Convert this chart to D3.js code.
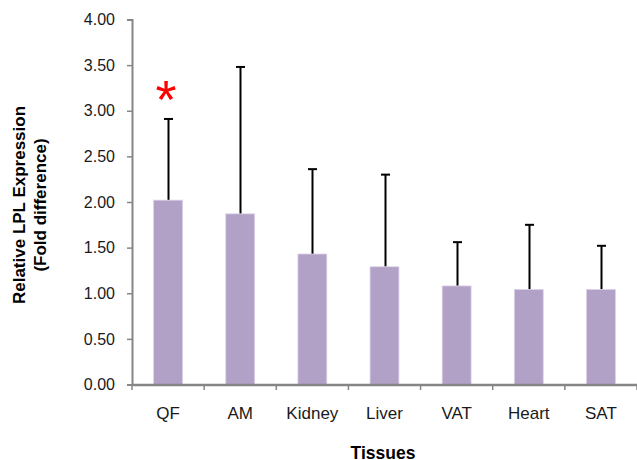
<!DOCTYPE html>
<html><head><meta charset="utf-8">
<script src="https://cdn.jsdelivr.net/npm/d3@7"></script>
<style>body{margin:0;background:#fff}svg{display:block}</style>
</head><body>
<svg id="c" width="637" height="460"></svg>
<script>
const categories = ["QF","AM","Kidney","Liver","VAT","Heart","SAT"];
const means = [2.02,1.87,1.43,1.29,1.08,1.04,1.04];
const errTops = [2.91,3.48,2.36,2.30,1.56,1.75,1.52];
const yTicks = [0,0.5,1,1.5,2,2.5,3,3.5,4];
const yTitle = ["Relative LPL Expression","(Fold difference)"];
const xTitle = "Tissues";
const sigMark = {category:"QF", value:2.92, text:"*"};

const svg = d3.select("#c");
const font = "Liberation Sans, Arial, sans-serif";
const x = d3.scaleBand().domain(categories).range([132,637]).paddingInner(0.6).paddingOuter(0.3);
const y = d3.scaleLinear().domain([0,4]).range([384.5,19.5]);
const data = categories.map((c,i)=>({c,m:means[i],e:errTops[i]}));

// error bars (drawn behind bars)
const eg = svg.append("g");
data.forEach(d=>{
  const cx = Math.round(x(d.c)+x.bandwidth()/2)+0.5;
  eg.append("line").attr("x1",cx).attr("x2",cx).attr("y1",y(d.m)).attr("y2",y(d.e)).attr("stroke","#000").attr("stroke-width",2);
  eg.append("line").attr("x1",cx-4.5).attr("x2",cx+4.5).attr("y1",y(d.e)).attr("y2",y(d.e)).attr("stroke","#000").attr("stroke-width",2);
});

svg.append("g").selectAll("rect").data(data).join("rect")
  .attr("x",d=>x(d.c)).attr("width",x.bandwidth())
  .attr("y",d=>y(d.m)).attr("height",d=>y(0)-y(d.m))
  .attr("fill","#b1a1c7").attr("stroke","#d9d0e6").attr("stroke-width",0.8);

// y axis
const ya = svg.append("g").attr("transform","translate(132,0)")
  .call(d3.axisLeft(y).tickValues(yTicks).tickFormat(d3.format(".2f")).tickSize(5).tickPadding(12));
ya.select(".domain").attr("stroke","#868686").attr("stroke-width",2);
ya.selectAll(".tick line").attr("stroke","#868686").attr("stroke-width",1.5);
ya.selectAll(".tick text").attr("font-family",font).attr("font-size",16).attr("fill","#1a1a1a");

// x axis
const xa = svg.append("g").attr("transform","translate(0,384.5)")
  .call(d3.axisBottom(x).tickSize(0).tickPadding(22));
xa.select(".domain").attr("stroke","#868686").attr("stroke-width",2.5);
xa.selectAll(".tick text").attr("font-family",font).attr("font-size",17).attr("fill","#1a1a1a");
const step = x.step();
const bounds = d3.range(categories.length+1).map(i=>132+i*step);
svg.append("g").selectAll("line").data(bounds).join("line")
  .attr("x1",d=>d).attr("x2",d=>d).attr("y1",384).attr("y2",390)
  .attr("stroke","#868686").attr("stroke-width",1.5);

// titles
svg.append("text").attr("x",383).attr("y",458.5).attr("text-anchor","middle")
  .attr("font-family",font).attr("font-weight","bold").attr("font-size",17.5).attr("fill","#000").text(xTitle);
const yt = svg.append("text").attr("transform","translate(24.5,205) rotate(-90)").attr("text-anchor","middle")
  .attr("font-family",font).attr("font-weight","bold").attr("font-size",17).attr("fill","#000");
yt.append("tspan").attr("x",0).attr("dy",0).text(yTitle[0]);
yt.append("tspan").attr("x",0).attr("dy",21.5).text(yTitle[1]);

// significance asterisk
svg.append("text").attr("x",x(sigMark.category)+x.bandwidth()/2-2).attr("y",y(sigMark.value))
  .attr("text-anchor","middle").attr("font-family",font).attr("font-size",54).attr("fill","#ff0000").text(sigMark.text);
</script>
</body></html>
